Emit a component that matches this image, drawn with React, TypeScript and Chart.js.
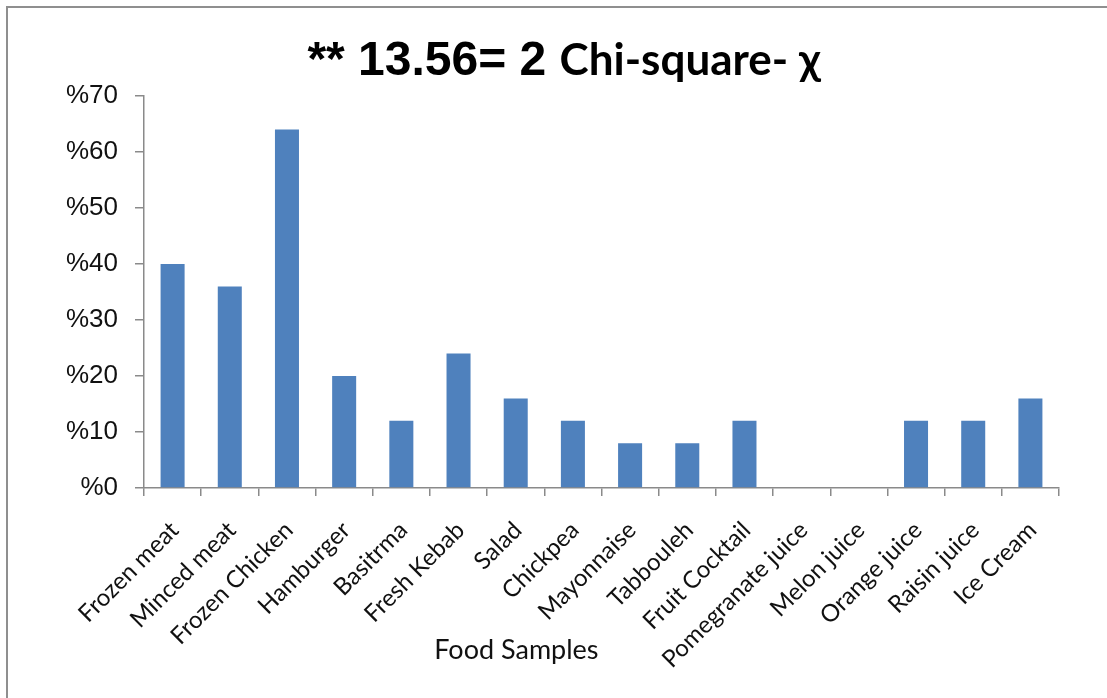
import React, { useEffect, useRef } from "react";
import { Chart, registerables } from "chart.js";

Chart.register(...registerables);

const categories = [
  "Frozen meat",
  "Minced meat",
  "Frozen Chicken",
  "Hamburger",
  "Basitrma",
  "Fresh Kebab",
  "Salad",
  "Chickpea",
  "Mayonnaise",
  "Tabbouleh",
  "Fruit Cocktail",
  "Pomegranate juice",
  "Melon juice",
  "Orange juice",
  "Raisin juice",
  "Ice Cream",
];
const percentages = [40, 36, 64, 20, 12, 24, 16, 12, 8, 8, 12, 0, 0, 12, 12, 16];
const titlePartA = "** 13.56= 2 ";
const titlePartB = "Chi-square- χ";
const xAxisTitle = "Food Samples";
const yMin = 0;
const yMax = 70;
const yStep = 10;

const overlayText = {
  id: "overlayText",
  afterDraw(chart: any) {
    const ctx = chart.ctx;
    const area = chart.chartArea;
    ctx.save();
    ctx.fillStyle = "#000";
    ctx.textBaseline = "alphabetic";
    const fontA = "bold 48px 'Liberation Sans', Arial, sans-serif";
    const fontB = "bold 44px Lato, 'Open Sans', sans-serif";
    ctx.font = fontA;
    const wA = ctx.measureText(titlePartA).width;
    ctx.font = fontB;
    const wB = ctx.measureText(titlePartB).width;
    const cx = 564;
    const x = cx - (wA + wB) / 2;
    const baseline = 75;
    ctx.textAlign = "left";
    ctx.font = fontA;
    ctx.fillText(titlePartA, x, baseline);
    ctx.font = fontB;
    ctx.fillText(titlePartB, x + wA, baseline);
    ctx.font = "27px Lato, 'Open Sans', sans-serif";
    ctx.textAlign = "center";
    ctx.textBaseline = "middle";
    ctx.fillStyle = "#111";
    ctx.fillText(xAxisTitle, area.left + (area.right - area.left) * 0.407, area.bottom + 162);
    ctx.restore();
  },
};

export default function App() {
  const canvasRef = useRef<HTMLCanvasElement | null>(null);

  useEffect(() => {
    if (!canvasRef.current) return;
    const chart = new Chart(canvasRef.current, {
      type: "bar",
      data: {
        labels: categories,
        datasets: [
          {
            data: percentages,
            backgroundColor: "#4F81BD",
            borderWidth: 0,
            barPercentage: 0.42,
            categoryPercentage: 1,
          },
        ],
      },
      options: {
        animation: false,
        responsive: false,
        maintainAspectRatio: false,
        layout: { padding: { left: 0, top: 96, right: 48, bottom: 0 } },
        plugins: {
          legend: { display: false },
          title: { display: false },
          tooltip: { enabled: false },
        },
        scales: {
          x: {
            afterFit: (scale: any) => {
              scale.height = 210;
            },
            offset: true,
            border: { display: true, color: "#8a8a8a", width: 1.5 },
            grid: {
              offset: true,
              drawOnChartArea: false,
              drawTicks: true,
              tickLength: 8,
              color: "#8a8a8a",
              lineWidth: 1.5,
            },
            ticks: {
              autoSkip: false,
              maxRotation: 45,
              minRotation: 45,
              padding: 20,
              labelOffset: 2,
              color: "#111",
              font: { family: "Lato, 'Open Sans', sans-serif", size: 24 },
            },
          },
          y: {
            min: yMin,
            max: yMax,
            afterFit: (scale: any) => {
              scale.width = 144;
            },
            border: { display: true, color: "#8a8a8a", width: 1.5 },
            grid: {
              drawOnChartArea: false,
              drawTicks: true,
              tickLength: 9,
              color: "#8a8a8a",
              lineWidth: 1.5,
            },
            ticks: {
              stepSize: yStep,
              padding: 17,
              color: "#111",
              font: { family: "'Liberation Sans', Arial, sans-serif", size: 26 },
              callback: (v: any) => "%" + v,
            },
          },
        },
      },
      plugins: [overlayText],
    });
    return () => chart.destroy();
  }, []);

  return (
    <div
      style={{
        position: "fixed",
        left: 0,
        top: 0,
        width: 1107,
        height: 698,
        overflow: "hidden",
        background: "#fff",
      }}
    >
      <div
        style={{
          position: "absolute",
          left: 6,
          top: 6,
          width: 1200,
          height: 800,
          border: "2px solid #8f8f8f",
        }}
      />
      <canvas
        ref={canvasRef}
        width={1107}
        height={698}
        style={{ position: "absolute", left: 0, top: 0, width: 1107, height: 698 }}
      />
    </div>
  );
}
